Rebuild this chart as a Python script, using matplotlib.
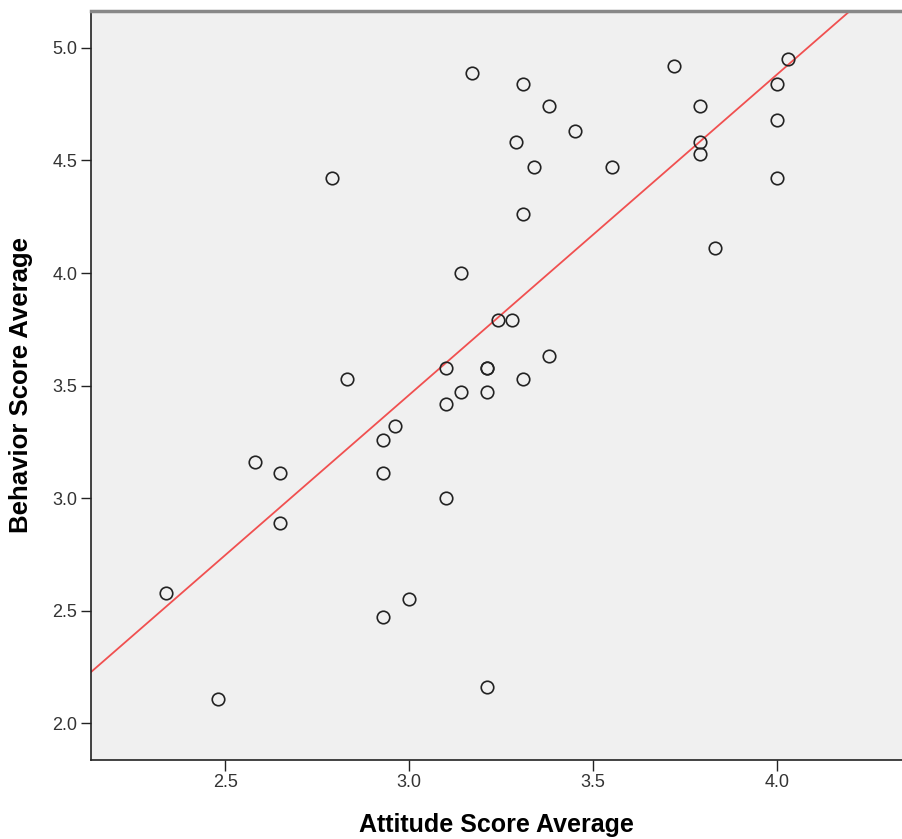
import numpy as np
import matplotlib.pyplot as plt

# values
attitude = [2.34, 2.48, 2.58, 2.65, 2.65, 2.79, 2.83, 2.93, 2.96, 2.93,
            3.10, 2.93, 3.00, 3.10, 3.10, 3.17, 3.31, 3.38, 3.45, 3.29,
            3.34, 3.55, 3.31, 3.72, 4.03, 4.00, 3.79, 4.00, 3.79, 3.79,
            4.00, 3.83, 3.14, 3.24, 3.28, 3.38, 3.21, 3.21, 3.14, 3.21,
            3.31, 3.21]
behavior = [2.58, 2.11, 3.16, 3.11, 2.89, 4.42, 3.53, 3.26, 3.32, 3.11,
            3.00, 2.47, 2.55, 3.58, 3.42, 4.89, 4.84, 4.74, 4.63, 4.58,
            4.47, 4.47, 4.26, 4.92, 4.95, 4.84, 4.74, 4.68, 4.58, 4.53,
            4.42, 4.11, 4.00, 3.79, 3.79, 3.63, 3.58, 3.58, 3.47, 3.47,
            3.53, 2.16]

# fit line
fit_intercept = -0.813
fit_slope = 1.424

x_ticks = [2.5, 3.0, 3.5, 4.0]
y_ticks = [2.0, 2.5, 3.0, 3.5, 4.0, 4.5, 5.0]

plt.rcParams["font.family"] = ["Liberation Sans", "DejaVu Sans"]

fig = plt.figure(figsize=(9.02, 8.39), dpi=100)
ax = fig.add_axes([0.1012, 0.0942, 0.8988, 0.8927])
ax.set_facecolor("#F0F0F0")

xlim = (2.136, 4.339)
ylim = (1.837, 5.164)
ax.set_xlim(*xlim)
ax.set_ylim(*ylim)

xs = np.array(xlim)
ax.plot(xs, fit_intercept + fit_slope * xs, color="#F05050", lw=1.3, zorder=2)

ax.plot(attitude, behavior, "o", ms=9, mfc="none", mec="#222222", mew=1.2, zorder=3)

ax.set_xticks(x_ticks)
ax.set_yticks(y_ticks)
ax.set_xticklabels([f"{t:.1f}" for t in x_ticks])
ax.set_yticklabels([f"{t:.1f}" for t in y_ticks])
ax.tick_params(direction="out", width=1, labelsize=13,
               labelcolor="#333333", color="#222222")
ax.tick_params(axis="x", length=8, pad=2)
ax.tick_params(axis="y", length=7, pad=3)

for s in ["left", "bottom"]:
    ax.spines[s].set_color("#222222")
    ax.spines[s].set_linewidth(1.2)
ax.spines["right"].set_visible(False)
ax.spines["top"].set_color("#888888")
ax.spines["top"].set_linewidth(2.5)

ax.set_xlabel("Attitude Score Average", fontsize=18, fontweight="bold", labelpad=16)
ax.set_ylabel("Behavior Score Average", fontsize=18.5, fontweight="bold", labelpad=14)

fig.savefig("out.png", dpi=100, facecolor="white")
